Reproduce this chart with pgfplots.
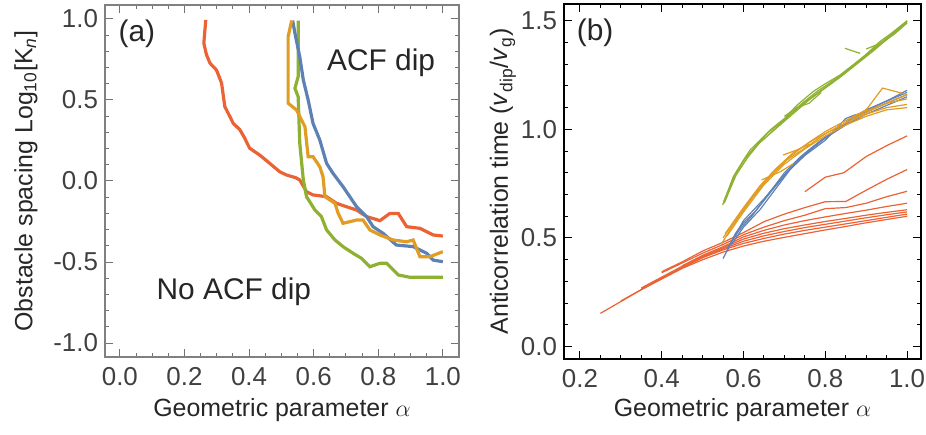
\documentclass[border=0pt]{standalone}
\usepackage{fontspec}
\setmainfont{Liberation Sans}
\usepackage{pgfplots}
\pgfplotsset{compat=1.18}
\definecolor{mblue}{HTML}{5E81B5}
\definecolor{morange}{HTML}{E19C24}
\definecolor{mgreen}{HTML}{8FB131}
\definecolor{mred}{HTML}{EB6235}
\pgfplotsset{
  mybase/.style={
    scale only axis,
    anchor=south west,
    tick align=inside,
    major tick length=4bp,
    minor tick length=2.2bp,
    every tick/.style={line width=0.5bp},
    tick label style={font=\fontsize{13}{13}\selectfont, text=black!75},
    xticklabel style={yshift=-1.5bp},
    label style={font=\fontsize{12.5}{14}\selectfont, text=black!85},
    /pgf/number format/.cd, fixed, fixed zerofill, precision=1, assume math mode=true,
    /pgfplots/.cd,
    every axis plot/.append style={no markers},
  },
}
\begin{document}
\begin{tikzpicture}
\useasboundingbox (0,0) rectangle (463bp,217.5bp);
% ---------------- panel (a)
\begin{axis}[mybase,
  at={(52.5bp,39bp)}, width=177bp, height=176bp,
  xmin=-0.046, xmax=1.05, ymin=-1.086, ymax=1.086,
  xtick={0,0.2,0.4,0.6,0.8,1.0}, minor x tick num=3,
  ytick={-1,-0.5,0,0.5,1}, minor y tick num=4,
  axis line style={black!50, line width=1bp},
  every tick/.append style={black!55},
  xlabel={Geometric parameter $\alpha$},
  ylabel={Obstacle spacing Log\textsubscript{10}[K\textsubscript{\itshape n}]},
  xlabel style={at={(axis description cs:0.5,0)}, anchor=base, yshift=-29.5bp},
  ylabel style={at={(axis description cs:-0.223,0.5)}, anchor=center},
]
\addplot[mred, line width=1.6bp] coordinates {
(0.266,0.994)(0.262,0.90)(0.26,0.85)(0.268,0.78)(0.279,0.727)(0.299,0.685)(0.308,0.64)(0.315,0.603)
(0.32,0.53)(0.325,0.459)(0.34,0.40)(0.351,0.356)(0.372,0.315)(0.385,0.27)(0.402,0.202)(0.433,0.16)
(0.464,0.109)(0.495,0.057)(0.516,0.037)(0.545,0.02)(0.557,0.006)(0.578,-0.066)(0.598,-0.086)
(0.64,-0.097)(0.671,-0.138)(0.702,-0.159)(0.733,-0.179)(0.764,-0.22)(0.79,-0.235)(0.805,-0.245)
(0.836,-0.2)(0.862,-0.2)(0.888,-0.282)(0.929,-0.292)(0.97,-0.333)(1.0,-0.34)};
\addplot[mgreen, line width=1.6bp] coordinates {
(0.552,0.99)(0.552,0.644)(0.542,0.572)(0.552,0.52)(0.557,0.233)(0.568,0.006)(0.578,-0.097)
(0.604,-0.179)(0.624,-0.22)(0.64,-0.302)(0.666,-0.364)(0.691,-0.405)(0.722,-0.446)(0.748,-0.477)
(0.774,-0.529)(0.805,-0.508)(0.826,-0.508)(0.862,-0.58)(0.898,-0.594)(0.95,-0.594)(1.0,-0.594)};
\addplot[mblue, line width=1.6bp] coordinates {
(0.535,0.99)(0.542,0.912)(0.557,0.767)(0.568,0.623)(0.583,0.5)(0.598,0.356)(0.619,0.253)
(0.64,0.109)(0.66,0.047)(0.691,-0.035)(0.712,-0.097)(0.733,-0.159)(0.764,-0.22)(0.784,-0.282)
(0.815,-0.323)(0.856,-0.395)(0.908,-0.405)(0.95,-0.446)(0.97,-0.488)(1.0,-0.498)};
\addplot[morange, line width=1.6bp] coordinates {
(0.532,0.99)(0.521,0.891)(0.521,0.48)(0.547,0.438)(0.573,0.335)(0.583,0.15)(0.598,0.15)
(0.619,0.088)(0.629,0.027)(0.635,-0.097)(0.666,-0.138)(0.676,-0.2)(0.691,-0.261)(0.733,-0.241)
(0.753,-0.241)(0.774,-0.302)(0.805,-0.333)(0.846,-0.364)(0.888,-0.375)(0.908,-0.364)
(0.929,-0.467)(0.96,-0.467)(1.0,-0.436)};
\node[font=\fontsize{15}{15}\selectfont, text=black!85] at (axis description cs:0.09,0.918) {(a)};
\node[font=\fontsize{15}{15}\selectfont, text=black!85, anchor=base] at (axis description cs:0.78,0.815) {ACF dip};
\node[font=\fontsize{15}{15}\selectfont, text=black!85, anchor=base] at (axis description cs:0.364,0.162) {No ACF dip};
\end{axis}
% ---------------- panel (b)
\begin{axis}[mybase,
  at={(282bp,38bp)}, width=178.5bp, height=177.5bp,
  xmin=0.161, xmax=1.034, ymin=-0.057, ymax=1.577,
  xtick={0.2,0.4,0.6,0.8,1.0}, minor x tick num=3,
  ytick={0,0.5,1,1.5}, minor y tick num=4,
  axis line style={black, line width=1bp},
  every tick/.append style={black},
  xlabel={Geometric parameter $\alpha$},
  ylabel={Anticorrelation time (\textit{v}\textsubscript{dip}/\textit{v}\textsubscript{g})},
  xlabel style={at={(axis description cs:0.5,0)}, anchor=base, yshift=-28.5bp},
  ylabel style={at={(axis description cs:-0.171,0.5)}, anchor=center},
  every axis plot/.append style={line width=0.6bp},
]
% red
\addplot[mred] coordinates {(0.25,0.153)(0.35,0.262)(0.45,0.36)(0.50,0.40)(0.55,0.435)(0.60,0.463)(0.65,0.485)(0.70,0.503)(0.75,0.52)(0.80,0.537)(0.85,0.553)(0.90,0.57)(0.95,0.585)(1.0,0.60)};
\addplot[mred] coordinates {(0.35,0.265)(0.45,0.365)(0.50,0.41)(0.55,0.445)(0.60,0.475)(0.65,0.498)(0.70,0.518)(0.75,0.535)(0.80,0.55)(0.85,0.565)(0.90,0.58)(0.95,0.595)(1.0,0.61)};
\addplot[mred] coordinates {(0.30,0.21)(0.40,0.315)(0.50,0.41)(0.55,0.45)(0.60,0.485)(0.65,0.51)(0.70,0.53)(0.75,0.548)(0.80,0.563)(0.85,0.578)(0.90,0.593)(0.95,0.607)(1.0,0.62)};
\addplot[mred] coordinates {(0.35,0.27)(0.45,0.37)(0.50,0.415)(0.55,0.455)(0.60,0.495)(0.65,0.522)(0.70,0.543)(0.75,0.56)(0.80,0.576)(0.85,0.59)(0.90,0.605)(0.95,0.618)(1.0,0.63)};
\addplot[mred] coordinates {(0.45,0.372)(0.50,0.42)(0.55,0.46)(0.60,0.505)(0.65,0.535)(0.70,0.56)(0.75,0.58)(0.80,0.597)(0.85,0.613)(0.90,0.628)(0.95,0.645)(1.0,0.66)};
\addplot[mred] coordinates {(0.40,0.34)(0.45,0.385)(0.50,0.43)(0.55,0.47)(0.60,0.515)(0.65,0.55)(0.70,0.58)(0.75,0.605)(0.80,0.635)(0.85,0.64)(0.90,0.66)(0.95,0.69)(1.0,0.715)};
\addplot[mred] coordinates {(0.40,0.345)(0.45,0.39)(0.50,0.44)(0.55,0.48)(0.60,0.525)(0.65,0.575)(0.70,0.61)(0.75,0.64)(0.80,0.667)(0.85,0.668)(0.90,0.72)(0.95,0.77)(1.0,0.815)};
\addplot[mred] coordinates {(0.75,0.713)(0.80,0.78)(0.845,0.80)(0.90,0.875)(0.95,0.925)(1.0,0.97)};
% blue
\addplot[mblue] coordinates {(0.55,0.405)(0.575,0.5)(0.6,0.56)(0.62,0.6)(0.66,0.70)(0.70,0.80)(0.74,0.875)(0.78,0.935)(0.82,0.99)(0.86,1.045)(0.90,1.09)(0.95,1.13)(1.0,1.17)};
\addplot[mblue] coordinates {(0.56,0.44)(0.58,0.52)(0.6,0.57)(0.63,0.625)(0.67,0.72)(0.71,0.81)(0.75,0.89)(0.79,0.95)(0.83,1.0)(0.87,1.05)(0.91,1.095)(0.96,1.14)(1.0,1.18)};
\addplot[mblue] coordinates {(0.57,0.47)(0.6,0.55)(0.64,0.63)(0.68,0.73)(0.72,0.83)(0.76,0.9)(0.80,0.96)(0.85,1.02)(0.9,1.07)(0.95,1.11)(1.0,1.15)};
\addplot[mblue] coordinates {(0.56,0.45)(0.6,0.58)(0.65,0.68)(0.7,0.79)(0.75,0.88)(0.8,0.95)(0.85,1.05)(0.87,1.065)(0.9,1.08)(0.95,1.12)(1.0,1.16)};
% orange
\addplot[morange] coordinates {(0.545,0.47)(0.583,0.583)(0.624,0.69)(0.665,0.782)(0.706,0.859)(0.755,0.92)(0.8,0.98)(0.85,1.03)(0.9,1.07)(0.95,1.1)(1.0,1.115)};
\addplot[morange] coordinates {(0.55,0.5)(0.59,0.61)(0.63,0.71)(0.67,0.8)(0.71,0.87)(0.76,0.94)(0.8,0.99)(0.85,1.04)(0.9,1.085)(0.95,1.12)(1.0,1.14)};
\addplot[morange] coordinates {(0.555,0.52)(0.6,0.64)(0.64,0.74)(0.68,0.82)(0.72,0.89)(0.77,0.95)(0.82,1.0)(0.87,1.05)(0.92,1.095)(0.96,1.13)(1.0,1.16)};
\addplot[morange] coordinates {(0.56,0.51)(0.6,0.62)(0.65,0.745)(0.7,0.84)(0.75,0.91)(0.8,0.97)(0.85,1.02)(0.9,1.06)(0.95,1.09)(1.0,1.10)};
\addplot[morange] coordinates {(0.644,0.767)(0.69,0.805)(0.72,0.84)};
\addplot[morange] coordinates {(0.697,0.882)(0.73,0.905)(0.76,0.93)};
\addplot[morange] coordinates {(0.85,1.04)(0.9,1.09)(0.94,1.19)(0.97,1.175)(1.0,1.16)};
% green
\addplot[mgreen] coordinates {(0.549,0.652)(0.575,0.782)(0.6,0.859)(0.616,0.905)(0.641,0.951)(0.665,0.997)(0.7,1.05)(0.73,1.11)(0.771,1.175)(0.8,1.21)(0.836,1.25)(0.885,1.319)(0.934,1.405)(0.96,1.44)(1.0,1.50)};
\addplot[mgreen] coordinates {(0.553,0.66)(0.578,0.785)(0.6,0.855)(0.63,0.925)(0.66,0.985)(0.7,1.045)(0.74,1.115)(0.78,1.175)(0.82,1.225)(0.86,1.285)(0.9,1.345)(0.95,1.42)(1.0,1.495)};
\addplot[mgreen] coordinates {(0.557,0.68)(0.582,0.79)(0.61,0.87)(0.64,0.94)(0.68,1.005)(0.72,1.07)(0.76,1.135)(0.80,1.19)(0.84,1.245)(0.88,1.305)(0.92,1.365)(0.96,1.43)(1.0,1.5)};
\addplot[mgreen] coordinates {(0.552,0.67)(0.58,0.795)(0.605,0.87)(0.635,0.93)(0.67,0.99)(0.71,1.06)(0.75,1.125)(0.79,1.18)(0.83,1.235)(0.87,1.295)(0.91,1.355)(0.95,1.415)(1.0,1.49)};
\addplot[mgreen] coordinates {(0.9,1.37)(0.94,1.40)(0.97,1.44)(1.0,1.49)};
\addplot[mgreen] coordinates {(0.848,1.373)(0.885,1.35)};
\addplot[mgreen] coordinates {(0.7,1.06)(0.73,1.1)(0.76,1.12)(0.79,1.17)};
\node[font=\fontsize{15}{15}\selectfont, text=black!85] at (axis description cs:0.087,0.918) {(b)};
\end{axis}
\end{tikzpicture}
\end{document}
